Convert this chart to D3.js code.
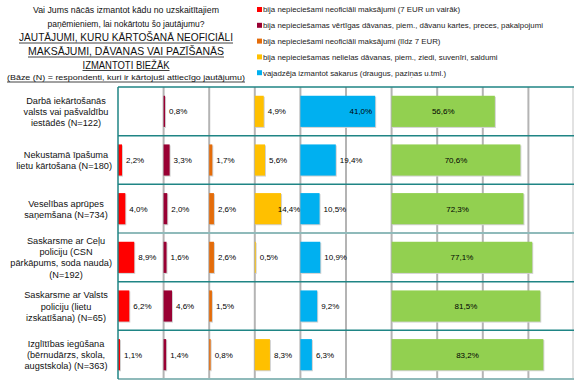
<!DOCTYPE html>
<html>
<head>
<meta charset="utf-8">
<script src="https://cdn.jsdelivr.net/npm/d3@7"></script>
<style>
  body { margin: 0; background: #fff; }
  text { font-family: "Liberation Sans", Arial, sans-serif; }
</style>
</head>
<body>
<svg id="chart" width="576" height="382"></svg>
<script>
// categories (rows), split into the lines they are printed on
const categories = [
  ["Darbā iekārtošanās", "valsts vai pašvaldību", "iestādēs (N=122)"],
  ["Nekustamā īpašuma", "lietu kārtošana (N=180)"],
  ["Veselības aprūpes", "saņemšana (N=734)"],
  ["Saskarsme ar Ceļu", "policiju (CSN", "pārkāpums, soda nauda)", "(N=192)"],
  ["Saskarsme ar Valsts", "policiju (lietu", "izskatīšana) (N=65)"],
  ["Izglītības iegūšana", "(bērnudārzs, skola,", "augstskola) (N=363)"]
];

const seriesNames = [
  "bija nepieciešami neoficiāli maksājumi (7 EUR un vairāk)",
  "bija nepieciešamas vērtīgas dāvanas, piem., dāvanu kartes, preces, pakalpojumi",
  "bija nepieciešami neoficiāli maksājumi (līdz 7 EUR)",
  "bija nepieciešamas nelielas dāvanas, piem., ziedi, suvenīri, saldumi",
  "vajadzēja izmantot sakarus (draugus, paziņas u.tml.)",
  "nekas no minētā nebija nepieciešams"
];
const colors = ["#ff0000", "#990033", "#e46c0a", "#ffc000", "#00b0f0", "#92d050"];

// values in %, one array per series, row order as in categories
const bigPayments   = [null, 2.2, 4.0, 8.9, 6.2, 1.1];
const valuableGifts = [0.8, 3.3, 2.0, 1.6, 4.6, 1.4];
const smallPayments = [null, 1.7, 2.6, 2.6, 1.5, 0.8];
const smallGifts    = [4.9, 5.6, 14.4, 0.5, null, 8.3];
const connections   = [41.0, 19.4, 10.5, 10.9, 9.2, 6.3];
const noneNeeded    = [56.6, 70.6, 72.3, 77.1, 81.5, 83.2];

const series = [bigPayments, valuableGifts, smallPayments, smallGifts, connections, noneNeeded];

// every series gets its own slot along the shared % axis
const slotStart = [0, 25, 50, 75, 100, 150];
const slotEnd   = [25, 50, 75, 100, 150, 250];

const svg = d3.select("#chart");
const fmt = v => d3.format(".1f")(v).replace(".", ",") + "%";

const x = d3.scaleLinear().domain([0, 250]).range([118, 574]);
const rows = d3.range(categories.length);
const yRow = d3.scaleBand().domain(rows).range([87, 379]);
const yBar = d3.scaleBand().domain(rows).range([87, 379]).paddingInner(0.36).paddingOuter(0.18);

// ---- title block
const title = svg.append("g");
const titleLines = [
  {t: "Vai Jums nācās izmantot kādu no uzskaitītajiem", y: 13, w: 186, fs: 9.5, u: false},
  {t: "paņēmieniem, lai nokārtotu šo jautājumu?", y: 27, w: 157, fs: 9.5, u: false},
  {t: "JAUTĀJUMI, KURU KĀRTOŠANĀ NEOFICIĀLI", y: 41, w: 214, fs: 10.5, u: true},
  {t: "MAKSĀJUMI, DĀVANAS VAI PAZĪŠANĀS", y: 55, w: 196, fs: 10.5, u: true},
  {t: "IZMANTOTI BIEŽĀK", y: 68.5, w: 87, fs: 10.5, u: true},
  {t: "(Bāze (N) = respondenti, kuri ir kārtojuši attiecīgo jautājumu)", y: 80, w: 238, fs: 7, u: true}
];
titleLines.forEach(l => {
  const cx = 126;
  title.append("text")
    .attr("x", cx).attr("y", l.y)
    .attr("text-anchor", "middle")
    .attr("font-size", l.fs)
    .attr("fill", "#111")
    .attr("textLength", l.w)
    .attr("lengthAdjust", "spacingAndGlyphs")
    .text(l.t);
  if (l.u) {
    title.append("line")
      .attr("x1", cx - l.w / 2).attr("x2", cx + l.w / 2)
      .attr("y1", l.y + 2).attr("y2", l.y + 2)
      .attr("stroke", "#111").attr("stroke-width", 0.8);
  }
});

// ---- legend (first five series only)
const legend = svg.append("g");
seriesNames.slice(0, 5).forEach((name, i) => {
  const ly = 9.5 + i * 15.8;
  legend.append("rect")
    .attr("x", 257).attr("y", ly - 2.5)
    .attr("width", 5).attr("height", 5)
    .attr("fill", colors[i]);
  legend.append("text")
    .attr("x", 263).attr("y", ly + 2.8)
    .attr("font-size", 7.85)
    .attr("fill", "#222")
    .text(name);
});

// ---- grid
const grid = svg.append("g");
d3.range(25, 250, 25).forEach(v => {
  grid.append("line")
    .attr("x1", x(v)).attr("x2", x(v))
    .attr("y1", 87).attr("y2", 379)
    .attr("stroke", "#b4b4b4").attr("stroke-width", 2);
});
grid.append("line")
  .attr("x1", x(250) - 1).attr("x2", x(250) - 1)
  .attr("y1", 87).attr("y2", 379)
  .attr("stroke", "#d8d8d8").attr("stroke-width", 1.5);

// ---- bars
const plot = svg.append("g");
series.forEach((vals, s) => {
  const g = plot.append("g");
  const data = vals.map((v, r) => ({v, r})).filter(d => d.v != null);

  // light shadow on right / bottom edge
  g.selectAll("rect.sh").data(data).join("rect")
    .attr("class", "sh")
    .attr("x", d => x(slotStart[s]) + 1)
    .attr("y", d => yBar(d.r) + 1)
    .attr("width", d => Math.max(0.6, x(slotStart[s] + d.v) - x(slotStart[s])))
    .attr("height", yBar.bandwidth())
    .attr("fill", "#d2d2d2");

  g.selectAll("rect.bar").data(data).join("rect")
    .attr("class", "bar")
    .attr("x", d => x(slotStart[s]))
    .attr("y", d => yBar(d.r))
    .attr("width", d => Math.max(0.6, x(slotStart[s] + d.v) - x(slotStart[s])))
    .attr("height", yBar.bandwidth())
    .attr("fill", colors[s]);

  const labels = g.selectAll("text").data(data).join("text")
    .attr("y", d => yBar(d.r) + yBar.bandwidth() / 2 + 3)
    .attr("font-size", 8)
    .attr("fill", "#000")
    .text(d => fmt(d.v));

  labels.each(function(d) {
    const t = d3.select(this);
    const x0 = x(slotStart[s]);
    const end = x(slotStart[s] + d.v);
    const w = this.getComputedTextLength();
    if (s === 5) {
      t.attr("x", (x0 + end) / 2).attr("text-anchor", "middle");
    } else if (end + 4 + w <= x(slotEnd[s]) + 2) {
      t.attr("x", end + 4).attr("text-anchor", "start");
    } else if (end - x0 > w + 6) {
      t.attr("x", end - 3).attr("text-anchor", "end");
    } else {
      t.attr("x", x(slotEnd[s])).attr("text-anchor", "end");
    }
  });
});

// ---- row separators and frame
const frame = svg.append("g");
d3.range(categories.length + 1).forEach(i => {
  const yy = i < categories.length ? yRow(i) : yRow.range()[1];
  const soft = (i === 3 || i === categories.length);
  frame.append("line")
    .attr("x1", x(0)).attr("x2", x(250))
    .attr("y1", yy).attr("y2", yy)
    .attr("stroke", soft ? "#8fbaba" : "#1f8585")
    .attr("stroke-width", soft ? 2.2 : 1.5);
});
frame.append("line")
  .attr("x1", x(0)).attr("x2", x(0))
  .attr("y1", 87).attr("y2", 379)
  .attr("stroke", "#1f8585").attr("stroke-width", 1.5);

// ---- category labels
const catG = svg.append("g");
categories.forEach((lines, r) => {
  const cy = yRow(r) + yRow.bandwidth() / 2;
  const lh = 11.3;
  lines.forEach((ln, k) => {
    const t = catG.append("text")
      .attr("y", cy + (k - (lines.length - 1) / 2) * lh + 3.5)
      .attr("font-size", 9.2)
      .attr("fill", "#111")
      .text(ln);
    // centred at 66, but never running past the plot edge
    const w = t.node().getComputedTextLength();
    t.attr("x", Math.min(66 - w / 2, 112 - w));
  });
});
</script>
</body>
</html>
